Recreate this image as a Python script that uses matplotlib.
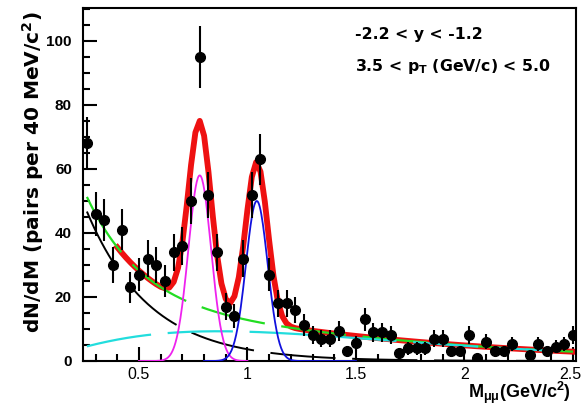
import numpy as np
import matplotlib
matplotlib.use("Agg")
import matplotlib.pyplot as plt
import matplotlib.transforms as mtransforms
from matplotlib.ticker import MultipleLocator, FixedLocator, FixedFormatter

plt.rcParams['font.family'] = ['Liberation Sans', 'DejaVu Sans']
plt.rcParams['mathtext.fontset'] = 'custom'
plt.rcParams['mathtext.rm'] = 'Liberation Sans:bold'
plt.rcParams['mathtext.it'] = 'Liberation Sans:bold'
plt.rcParams['mathtext.bf'] = 'Liberation Sans:bold'
plt.rcParams['mathtext.default'] = 'regular'
plt.rcParams['lines.scale_dashes'] = False

# ---- data points (bin centers, GeV/c^2) ----
mass = [0.26, 0.30, 0.34, 0.38, 0.42, 0.46, 0.50, 0.54, 0.58, 0.62,
        0.66, 0.70, 0.74, 0.78, 0.82, 0.86, 0.90, 0.94, 0.98, 1.02,
        1.06, 1.10, 1.14, 1.18, 1.22, 1.26, 1.30, 1.34, 1.38, 1.42,
        1.46, 1.50, 1.54, 1.58, 1.62, 1.66, 1.70, 1.74, 1.78, 1.82,
        1.86, 1.90, 1.94, 1.98, 2.02, 2.06, 2.10, 2.14, 2.18, 2.22,
        2.30, 2.34, 2.38, 2.42, 2.46, 2.50]
counts = [68, 46, 44, 30, 41, 23, 27, 32, 30, 25,
          34, 36, 50, 95, 52, 34, 17, 14, 32, 52,
          63, 27, 18, 18, 16, 11.3, 8, 7, 7, 9.5,
          3, 5.5, 13, 9, 9, 8, 2.4, 4, 4, 4,
          7, 7, 3, 3, 8, 0.8, 6, 3, 3, 5.3,
          2, 5.3, 3, 4.5, 5.3, 8]
errors = [8.2, 6.8, 6.6, 5.5, 6.4, 4.8, 5.2, 5.7, 5.5, 5.0,
          5.8, 6.0, 7.1, 9.7, 7.2, 5.8, 4.1, 3.7, 5.7, 7.2,
          7.9, 5.2, 4.2, 4.2, 4.0, 3.4, 2.8, 2.6, 2.6, 3.1,
          1.7, 2.3, 3.6, 3.0, 3.0, 2.8, 1.5, 2.0, 2.0, 2.0,
          2.6, 2.6, 1.7, 1.7, 2.8, 0.9, 2.4, 1.7, 1.7, 2.3,
          1.4, 2.3, 1.7, 2.1, 2.3, 2.8]

# ---- fit component parameters ----
omega_amp, omega_mean, omega_sigma = 58.0, 0.78, 0.052   # magenta
phi_amp, phi_mean, phi_sigma = 50.0, 1.043, 0.050         # blue
bkg_amp, bkg_x0, bkg_slope = 46.7, 0.26, 3.44             # black (exponential)
cont_amp, cont_pow, cont_decay = 46.7, 1.41, 1.63         # cyan continuum

def gaus(x, a, m, s):
    return a * np.exp(-0.5 * ((x - m) / s) ** 2)

def black_f(x):
    return bkg_amp * np.exp(-bkg_slope * (x - bkg_x0))

def cyan_f(x):
    return cont_amp * x ** cont_pow * np.exp(-cont_decay * x)

def green_f(x):
    return black_f(x) + cyan_f(x)

fig = plt.figure(figsize=(5.83, 4.07), dpi=100)
ax = fig.add_axes([83/583, 46/407, (576-83)/583, (361-8)/407])

dash = (0, (47, 12))

# total fit (red, thick, coarse sampling)
xr = np.arange(0.40, 2.5001, 0.02)
ax.plot(xr, green_f(xr) + gaus(xr, omega_amp, omega_mean, omega_sigma)
        + gaus(xr, phi_amp, phi_mean, phi_sigma), color='#ee1111', lw=4.2,
        zorder=2, solid_joinstyle='round')

xf = np.linspace(0.26, 2.5, 400)
ax.plot(xf, black_f(xf), color='black', lw=1.4, ls=dash, zorder=3)
ax.plot(xf, green_f(xf), color='#22dd22', lw=1.6, ls=dash, zorder=3)
ax.plot(xf, cyan_f(xf), color='#22dddd', lw=1.6, ls=dash, zorder=3)

xo = np.linspace(0.5, 1.0, 200)
ax.plot(xo, gaus(xo, omega_amp, omega_mean, omega_sigma), color='#ee22ee', lw=1.3, zorder=3)
xp = np.linspace(0.8, 1.5, 200)
ax.plot(xp, gaus(xp, phi_amp, phi_mean, phi_sigma), color='#1111dd', lw=1.3, zorder=3)

ax.errorbar(mass, counts, yerr=errors, fmt='o', color='black', ms=7,
            elinewidth=1.5, capsize=0, zorder=5)

ax.set_xlim(0.242, 2.514)
ax.set_ylim(0, 110.3)

for s in ax.spines.values():
    s.set_linewidth(1.5)

ax.xaxis.set_major_locator(FixedLocator([0.5, 1.0, 1.5, 2.0, 2.5]))
ax.xaxis.set_major_formatter(FixedFormatter(['0.5', '1', '1.5', '2', '2.5']))
ax.xaxis.set_minor_locator(MultipleLocator(0.1))
ax.yaxis.set_major_locator(MultipleLocator(20))
ax.yaxis.set_minor_locator(MultipleLocator(5))
ax.tick_params(which='both', direction='in', top=False, right=False, width=1.5)
ax.tick_params(which='major', length=10)
ax.tick_params(which='minor', length=5)
ax.tick_params(axis='y', pad=8, labelsize=11)
ax.tick_params(axis='x', pad=4, labelsize=11.5)
for lab in ax.get_yticklabels():
    lab.set_fontweight('bold')
xlabs = ax.get_xticklabels()
xlabs[-1].set_transform(xlabs[-1].get_transform() +
                        mtransforms.ScaledTranslation(-3/100, 0, fig.dpi_scale_trans))

ax.set_ylabel('dN/dM (pairs per 40 MeV/c$^{2}$)', fontsize=14.5, fontweight='bold',
              family=['DejaVu Sans'], va='center')
ax.yaxis.set_label_coords(-0.101, 0.535)
ax.set_xlabel('M$_{μμ}$(GeV/c$^{2}$)', fontsize=13, fontweight='bold', va='center')
ax.xaxis.set_label_coords(0.99, -0.089)
ax.xaxis.label.set_horizontalalignment('right')

fig.text(355/583, 1 - 35/407, '-2.2 < y < -1.2', fontsize=11.3, fontweight='bold',
         va='center', ha='left', family=['DejaVu Sans'])
fig.text(355/583, 1 - 67/407, '3.5 < p$_{T}$ (GeV/c) < 5.0', fontsize=11.3,
         fontweight='bold', va='center', ha='left', family=['DejaVu Sans'])

fig.savefig('out.png', dpi=100)
